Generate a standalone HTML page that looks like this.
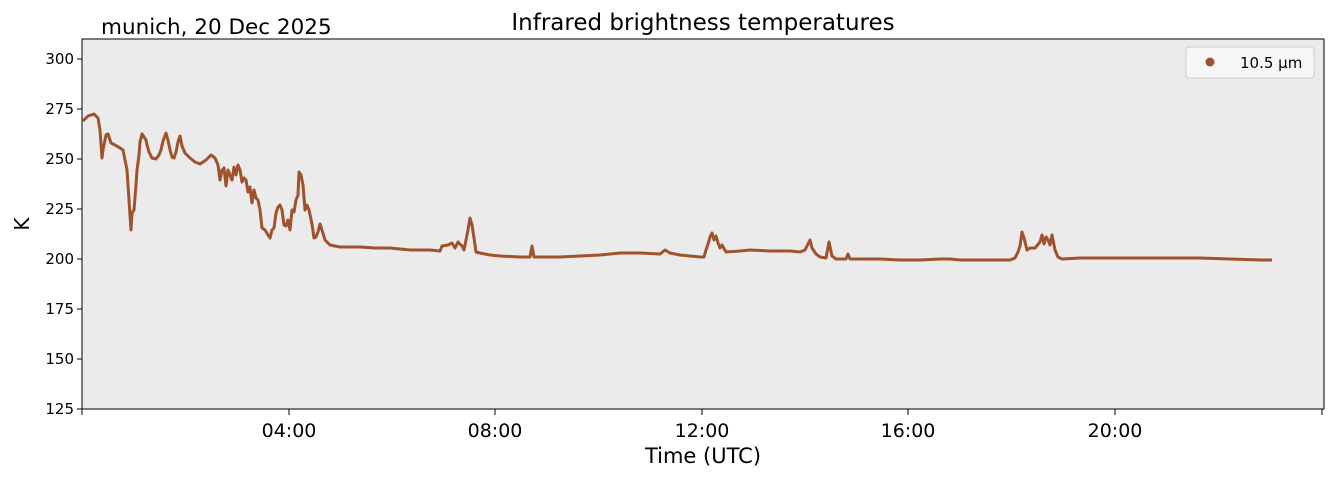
<!DOCTYPE html>
<html><head><style>
body{margin:0;background:#fff;}
svg text{font-family:"DejaVu Sans","Liberation Sans",sans-serif;}
</style></head><body>
<svg width="1335" height="478" viewBox="0 0 1335 478" xmlns="http://www.w3.org/2000/svg">
<rect width="1335" height="478" fill="#fff"/>
<rect x="82" y="39" width="1242" height="370" fill="#ebebeb" stroke="#000" stroke-width="1"/>
<text x="703" y="30" font-size="23" text-anchor="middle">Infrared brightness temperatures</text>
<text x="101" y="34" font-size="21.5">munich, 20 Dec 2025</text>
<g font-size="15" text-anchor="end">
<text x="74" y="414">125</text><text x="74" y="364">150</text><text x="74" y="314">175</text>
<text x="74" y="264">200</text><text x="74" y="214">225</text><text x="74" y="164">250</text>
<text x="74" y="114">275</text><text x="74" y="64">300</text>
</g>
<g stroke="#000" stroke-width="1">
<line x1="77" y1="409" x2="82" y2="409"/><line x1="77" y1="359" x2="82" y2="359"/><line x1="77" y1="309" x2="82" y2="309"/><line x1="77" y1="259" x2="82" y2="259"/><line x1="77" y1="209" x2="82" y2="209"/><line x1="77" y1="159" x2="82" y2="159"/><line x1="77" y1="109" x2="82" y2="109"/><line x1="77" y1="59" x2="82" y2="59"/>
<line x1="82" y1="409" x2="82" y2="415"/><line x1="289" y1="409" x2="289" y2="415"/><line x1="495" y1="409" x2="495" y2="415"/><line x1="702" y1="409" x2="702" y2="415"/><line x1="908" y1="409" x2="908" y2="415"/><line x1="1115" y1="409" x2="1115" y2="415"/><line x1="1322" y1="409" x2="1322" y2="415"/>
</g>
<g font-size="19" text-anchor="middle">
<text x="289" y="437">04:00</text><text x="495" y="437">08:00</text><text x="702" y="437">12:00</text><text x="908" y="437">16:00</text><text x="1115" y="437">20:00</text>
</g>
<text x="703" y="463" font-size="21" text-anchor="middle">Time (UTC)</text>
<text x="29" y="224" font-size="20" text-anchor="middle" transform="rotate(-90 29 224)">K</text>
<polyline fill="none" stroke="#a0522d" stroke-width="3" stroke-linejoin="round" points="83,121 88,116 94,114 98,118 100,130 102,158 103,150 106,135 108,134 111,143 115,145 120,148 123,150 125,160 127,170 129,200 131,230 132,213 134,210 136,185 137,170 139,155 140,142 142,134 144,137 146,140 147,145 149,152 152,158 156,159 159,155 161,150 163,141 166,133 168,140 170,150 172,157 174,158 176,152 178,142 180,136 182,146 185,153 190,158 195,162 200,164 206,160 211,155 215,158 218,165 220,180 222,170 224,168 226,186 228,170 230,175 232,180 234,167 236,175 238,165 240,170 242,182 244,178 246,180 248,192 250,187 252,203 254,190 256,198 258,200 260,210 262,228 265,230 268,235 270,238 272,230 274,228 276,213 278,207 280,205 282,210 284,225 286,226 288,220 290,230 292,210 294,212 296,200 298,195 299,172 301,175 303,185 305,210 307,205 309,210 312,224 314,238 316,237 318,232 320,224 322,230 325,240 330,245 340,247 360,247 375,248 390,248 400,249 410,250 430,250 440,251 442,246 448,245 452,243 455,248 458,242 462,246 464,250 466,240 468,230 470,218 472,225 474,238 476,252 480,253 490,255 500,256 520,257 530,257 532,246 534,257 560,257 580,256 600,255 620,253 640,253 660,254 665,250 670,253 680,255 690,256 700,257 704,257 706,250 708,244 710,237 712,233 714,240 716,236 718,243 720,248 722,245 726,252 740,251 750,250 770,251 790,251 800,252 805,250 808,244 810,240 812,248 816,254 820,257 826,258 829,242 832,256 836,259 846,259 848,254 850,259 860,259 880,259 900,260 920,260 940,259 950,259 960,260 980,260 1000,260 1010,260 1015,258 1018,252 1020,246 1022,232 1024,238 1027,250 1030,248 1035,248 1040,242 1042,235 1044,244 1046,237 1048,240 1050,245 1052,235 1055,250 1058,257 1062,259 1080,258 1100,258 1120,258 1140,258 1180,258 1200,258 1230,259 1260,260 1272,260"/>
<rect x="1186" y="47" width="128" height="31" rx="3" fill="#f7f7f7" stroke="#ccc"/>
<circle cx="1210" cy="62" r="4.5" fill="#a0522d"/>
<text x="1240" y="68" font-size="15">10.5 µm</text>
</svg>
</body></html>
